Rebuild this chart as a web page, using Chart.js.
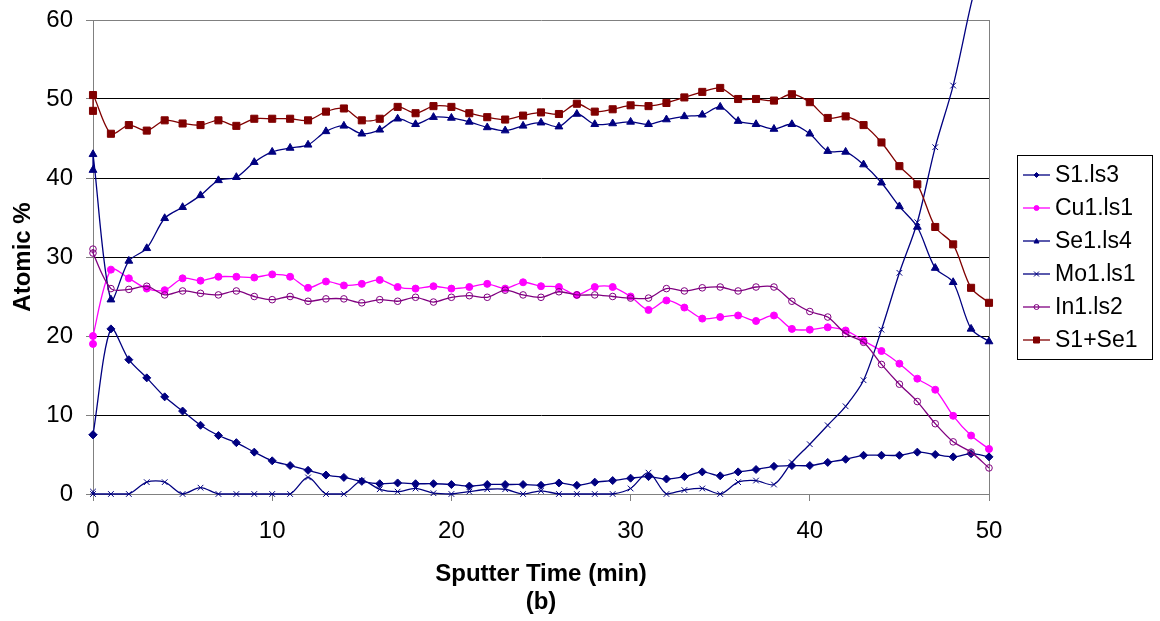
<!DOCTYPE html>
<html>
<head>
<meta charset="utf-8">
<script src="https://cdn.jsdelivr.net/npm/chart.js@4/dist/chart.umd.min.js"></script>
<style>
  html, body { margin: 0; padding: 0; background: #fff; }
  #wrap { width: 1160px; height: 621px; }
</style>
</head>
<body>
<div id="wrap"><canvas id="myChart" width="1160" height="621"></canvas></div>
<script>
// sputter time in minutes (two readings at t = 0)
const times = [0, 0, 1, 2, 3, 4, 5, 6, 7, 8, 9, 10, 11, 12, 13, 14, 15, 16, 17, 18, 19, 20,
  21, 22, 23, 24, 25, 26, 27, 28, 29, 30, 31, 32, 33, 34, 35, 36, 37, 38, 39, 40,
  41, 42, 43, 44, 45, 46, 47, 48, 49, 50];

const s1 = [7.5, 7.5, 20.9, 17.0, 14.7, 12.3, 10.5, 8.7, 7.4, 6.5, 5.3, 4.2, 3.6, 3.0, 2.4, 2.1,
  1.6, 1.3, 1.4, 1.3, 1.3, 1.2, 1.0, 1.2, 1.2, 1.2, 1.1, 1.4, 1.1, 1.5, 1.7, 2.0, 2.2, 1.9,
  2.2, 2.8, 2.3, 2.8, 3.1, 3.5, 3.6, 3.6, 4.0, 4.4, 4.9, 4.9, 4.9, 5.3, 5.0, 4.7, 5.1, 4.7];

const cu1 = [19, 20, 28.4, 27.3, 26.0, 25.8, 27.3, 27.0, 27.5, 27.5, 27.4, 27.8, 27.5, 26.1,
  26.9, 26.4, 26.6, 27.1, 26.2, 26.0, 26.3, 26.0, 26.2, 26.6, 26.0, 26.8, 26.3, 26.2, 25.2,
  26.2, 26.2, 25.0, 23.3, 24.5, 23.6, 22.2, 22.4, 22.6, 21.9, 22.6, 20.9, 20.8, 21.1, 20.7,
  19.4, 18.1, 16.5, 14.6, 13.2, 9.9, 7.4, 5.7];

const se1 = [41, 43, 24.6, 29.5, 31.1, 34.9, 36.3, 37.8, 39.7, 40.1, 42.0, 43.3, 43.8, 44.2,
  45.9, 46.6, 45.6, 46.1, 47.5, 46.8, 47.7, 47.6, 47.1, 46.4, 46.0, 46.6, 47.0, 46.5, 48.1,
  46.8, 46.9, 47.1, 46.8, 47.4, 47.8, 48.0, 49.0, 47.2, 46.8, 46.2, 46.8, 45.6, 43.4, 43.3,
  41.7, 39.4, 36.4, 33.8, 28.6, 26.8, 20.9, 19.3];

const mo1 = [0.3, 0, 0, 0, 1.5, 1.5, 0, 0.8, 0, 0, 0, 0, 0, 2.1, 0, 0, 1.7, 0.6, 0.3, 0.7,
  0.1, 0, 0.3, 0.6, 0.6, 0, 0.4, 0, 0, 0, 0, 0.7, 2.7, 0, 0.5, 0.7, 0, 1.5, 1.7, 1.2, 4.0,
  6.3, 8.7, 11.1, 14.4, 20.8, 28.0, 34.4, 43.9, 51.7, 62, 71];

const in1 = [31, 30.5, 26.0, 25.9, 26.3, 25.2, 25.7, 25.4, 25.2, 25.7, 25.0, 24.6, 25.0, 24.4,
  24.7, 24.7, 24.2, 24.6, 24.4, 24.9, 24.3, 24.9, 25.1, 24.9, 25.8, 25.2, 24.9, 25.6, 25.2,
  25.2, 25.0, 24.8, 24.8, 26.0, 25.7, 26.1, 26.2, 25.7, 26.2, 26.2, 24.4, 23.1, 22.4, 20.3,
  19.2, 16.4, 13.9, 11.7, 8.9, 6.6, 5.3, 3.3];

const s1se1 = [48.5, 50.5, 45.6, 46.7, 46.0, 47.3, 46.9, 46.7, 47.3, 46.6, 47.5, 47.5, 47.5,
  47.3, 48.4, 48.8, 47.3, 47.5, 49.0, 48.2, 49.1, 49.0, 48.2, 47.7, 47.4, 47.9, 48.3, 48.1,
  49.4, 48.4, 48.7, 49.2, 49.1, 49.5, 50.2, 50.9, 51.4, 50.0, 50.0, 49.8, 50.6, 49.6, 47.6,
  47.8, 46.7, 44.5, 41.5, 39.2, 33.8, 31.6, 26.1, 24.2];

const yTicks = [0, 10, 20, 30, 40, 50, 60];
const xTicks = [0, 10, 20, 30, 40, 50];

const FONT = "'Liberation Sans', Arial, sans-serif";
const GRAY = "#808080";

function pts(values) {
  return values.map((v, i) => ({ x: times[i], y: v }));
}

function series(label, values, color, style, radius, fill, order) {
  return {
    label: label,
    data: pts(values),
    borderColor: color,
    backgroundColor: fill,
    borderWidth: 1.3,
    pointStyle: style,
    pointRadius: radius,
    pointHoverRadius: radius,
    pointBorderColor: color,
    pointBackgroundColor: fill,
    pointBorderWidth: 1,
    tension: 0.3,
    order: order,
    clip: 10,
  };
}

const datasets = [
  series("S1.ls3", s1, "#000080", "rectRot", 4, "#000080", 6),
  series("Cu1.ls1", cu1, "#FF00FF", "circle", 3.5, "#FF00FF", 5),
  series("Se1.ls4", se1, "#000080", "triangle", 4.5, "#000080", 4),
  series("Mo1.ls1", mo1, "#000080", "crossRot", 4, "#000080", 3),
  series("In1.ls2", in1, "#800080", "circle", 3.3, "rgba(0,0,0,0)", 2),
  series("S1+Se1", s1se1, "#800000", "rect", 5, "#800000", 1),
];
// Mo1 rises past the top of the axis
datasets[3].clip = { left: 10, top: 20, right: 10, bottom: 10 };

// small marker shapes for the legend
function drawMarker(ctx, style, x, y, r) {
  ctx.beginPath();
  if (style === "circle") {
    ctx.arc(x, y, r, 0, Math.PI * 2);
  } else if (style === "rect") {
    ctx.rect(x - r, y - r, 2 * r, 2 * r);
  } else if (style === "rectRot") {
    ctx.moveTo(x, y - r); ctx.lineTo(x + r, y); ctx.lineTo(x, y + r); ctx.lineTo(x - r, y);
    ctx.closePath();
  } else if (style === "triangle") {
    ctx.moveTo(x, y - r); ctx.lineTo(x + r, y + r * 0.8); ctx.lineTo(x - r, y + r * 0.8);
    ctx.closePath();
  } else if (style === "crossRot") {
    ctx.moveTo(x - r, y - r); ctx.lineTo(x + r, y + r);
    ctx.moveTo(x + r, y - r); ctx.lineTo(x - r, y + r);
    ctx.stroke();
    return;
  }
  ctx.fill();
  ctx.stroke();
}

const legendBox = {
  id: "legendBox",
  afterDraw(chart) {
    const ctx = chart.ctx;
    const bx = 1017.5, by = 155.5, bw = 135, bh = 204;
    ctx.save();
    ctx.fillStyle = "#fff";
    ctx.fillRect(bx, by, bw, bh);
    ctx.strokeStyle = "#000";
    ctx.lineWidth = 1;
    ctx.strokeRect(bx, by, bw, bh);
    chart.data.datasets.forEach((ds, k) => {
      const y = 175 + 33 * k;
      ctx.strokeStyle = ds.borderColor;
      ctx.lineWidth = 1.3;
      ctx.beginPath();
      ctx.moveTo(1023, y);
      ctx.lineTo(1050, y);
      ctx.stroke();
      ctx.fillStyle = ds.pointBackgroundColor;
      ctx.lineWidth = 1;
      drawMarker(ctx, ds.pointStyle, 1036.5, y, ds.pointStyle === "rect" ? 3 : 2.5);
      ctx.fillStyle = "#000";
      ctx.font = "23px " + FONT;
      ctx.textBaseline = "middle";
      ctx.textAlign = "left";
      ctx.fillText(ds.label, 1055, y + 1);
    });
    ctx.restore();
  },
};

// right edge of the plot frame
const frame = {
  id: "frame",
  beforeDatasetsDraw(chart) {
    const { ctx, chartArea } = chart;
    ctx.save();
    ctx.strokeStyle = GRAY;
    ctx.lineWidth = 1;
    ctx.beginPath();
    ctx.moveTo(chartArea.right + 0.5, chartArea.top);
    ctx.lineTo(chartArea.right + 0.5, chartArea.bottom);
    ctx.stroke();
    ctx.restore();
  },
};

const ctx = document.getElementById("myChart").getContext("2d");

new Chart(ctx, {
  type: "line",
  data: { datasets: datasets },
  plugins: [frame, legendBox],
  options: {
    responsive: false,
    animation: false,
    layout: { padding: { left: 0, right: 171, top: 20, bottom: 0 } },
    plugins: {
      legend: { display: false },
      tooltip: { enabled: false },
    },
    scales: {
      x: {
        type: "linear",
        min: 0,
        max: 50,
        afterFit(scale) { scale.height = 127; },
        afterBuildTicks(scale) { scale.ticks = xTicks.map(v => ({ value: v })); },
        border: { display: true, color: GRAY, width: 1 },
        grid: { drawOnChartArea: false, drawTicks: true, tickLength: 7, color: GRAY, tickColor: GRAY },
        ticks: { color: "#000", font: { family: FONT, size: 24 }, padding: 16, maxRotation: 0 },
        title: {
          display: true,
          text: ["Sputter Time (min)", "(b)"],
          color: "#000",
          font: { family: FONT, size: 24, weight: "bold", lineHeight: 1.17 },
          padding: { top: 0, bottom: 5 },
        },
      },
      y: {
        min: 0,
        max: 60,
        afterFit(scale) {
          scale.width = 93;
          // keep the plot top at the layout padding
          scale.paddingTop = 0;
          scale.paddingBottom = 0;
        },
        afterBuildTicks(scale) { scale.ticks = yTicks.map(v => ({ value: v })); },
        border: { display: true, color: GRAY, width: 1 },
        grid: {
          drawTicks: true,
          tickLength: 7,
          tickColor: GRAY,
          lineWidth: 1,
          color: (c) => (c.tick && (c.tick.value === 0 || c.tick.value === 60)) ? GRAY : "#000",
        },
        ticks: { color: "#000", font: { family: FONT, size: 24 }, padding: 13 },
        title: {
          display: true,
          text: "Atomic %",
          color: "#000",
          font: { family: FONT, size: 24, weight: "bold", lineHeight: 1.2 },
          padding: { top: 9, bottom: 0 },
        },
      },
    },
  },
});
</script>
</body>
</html>
